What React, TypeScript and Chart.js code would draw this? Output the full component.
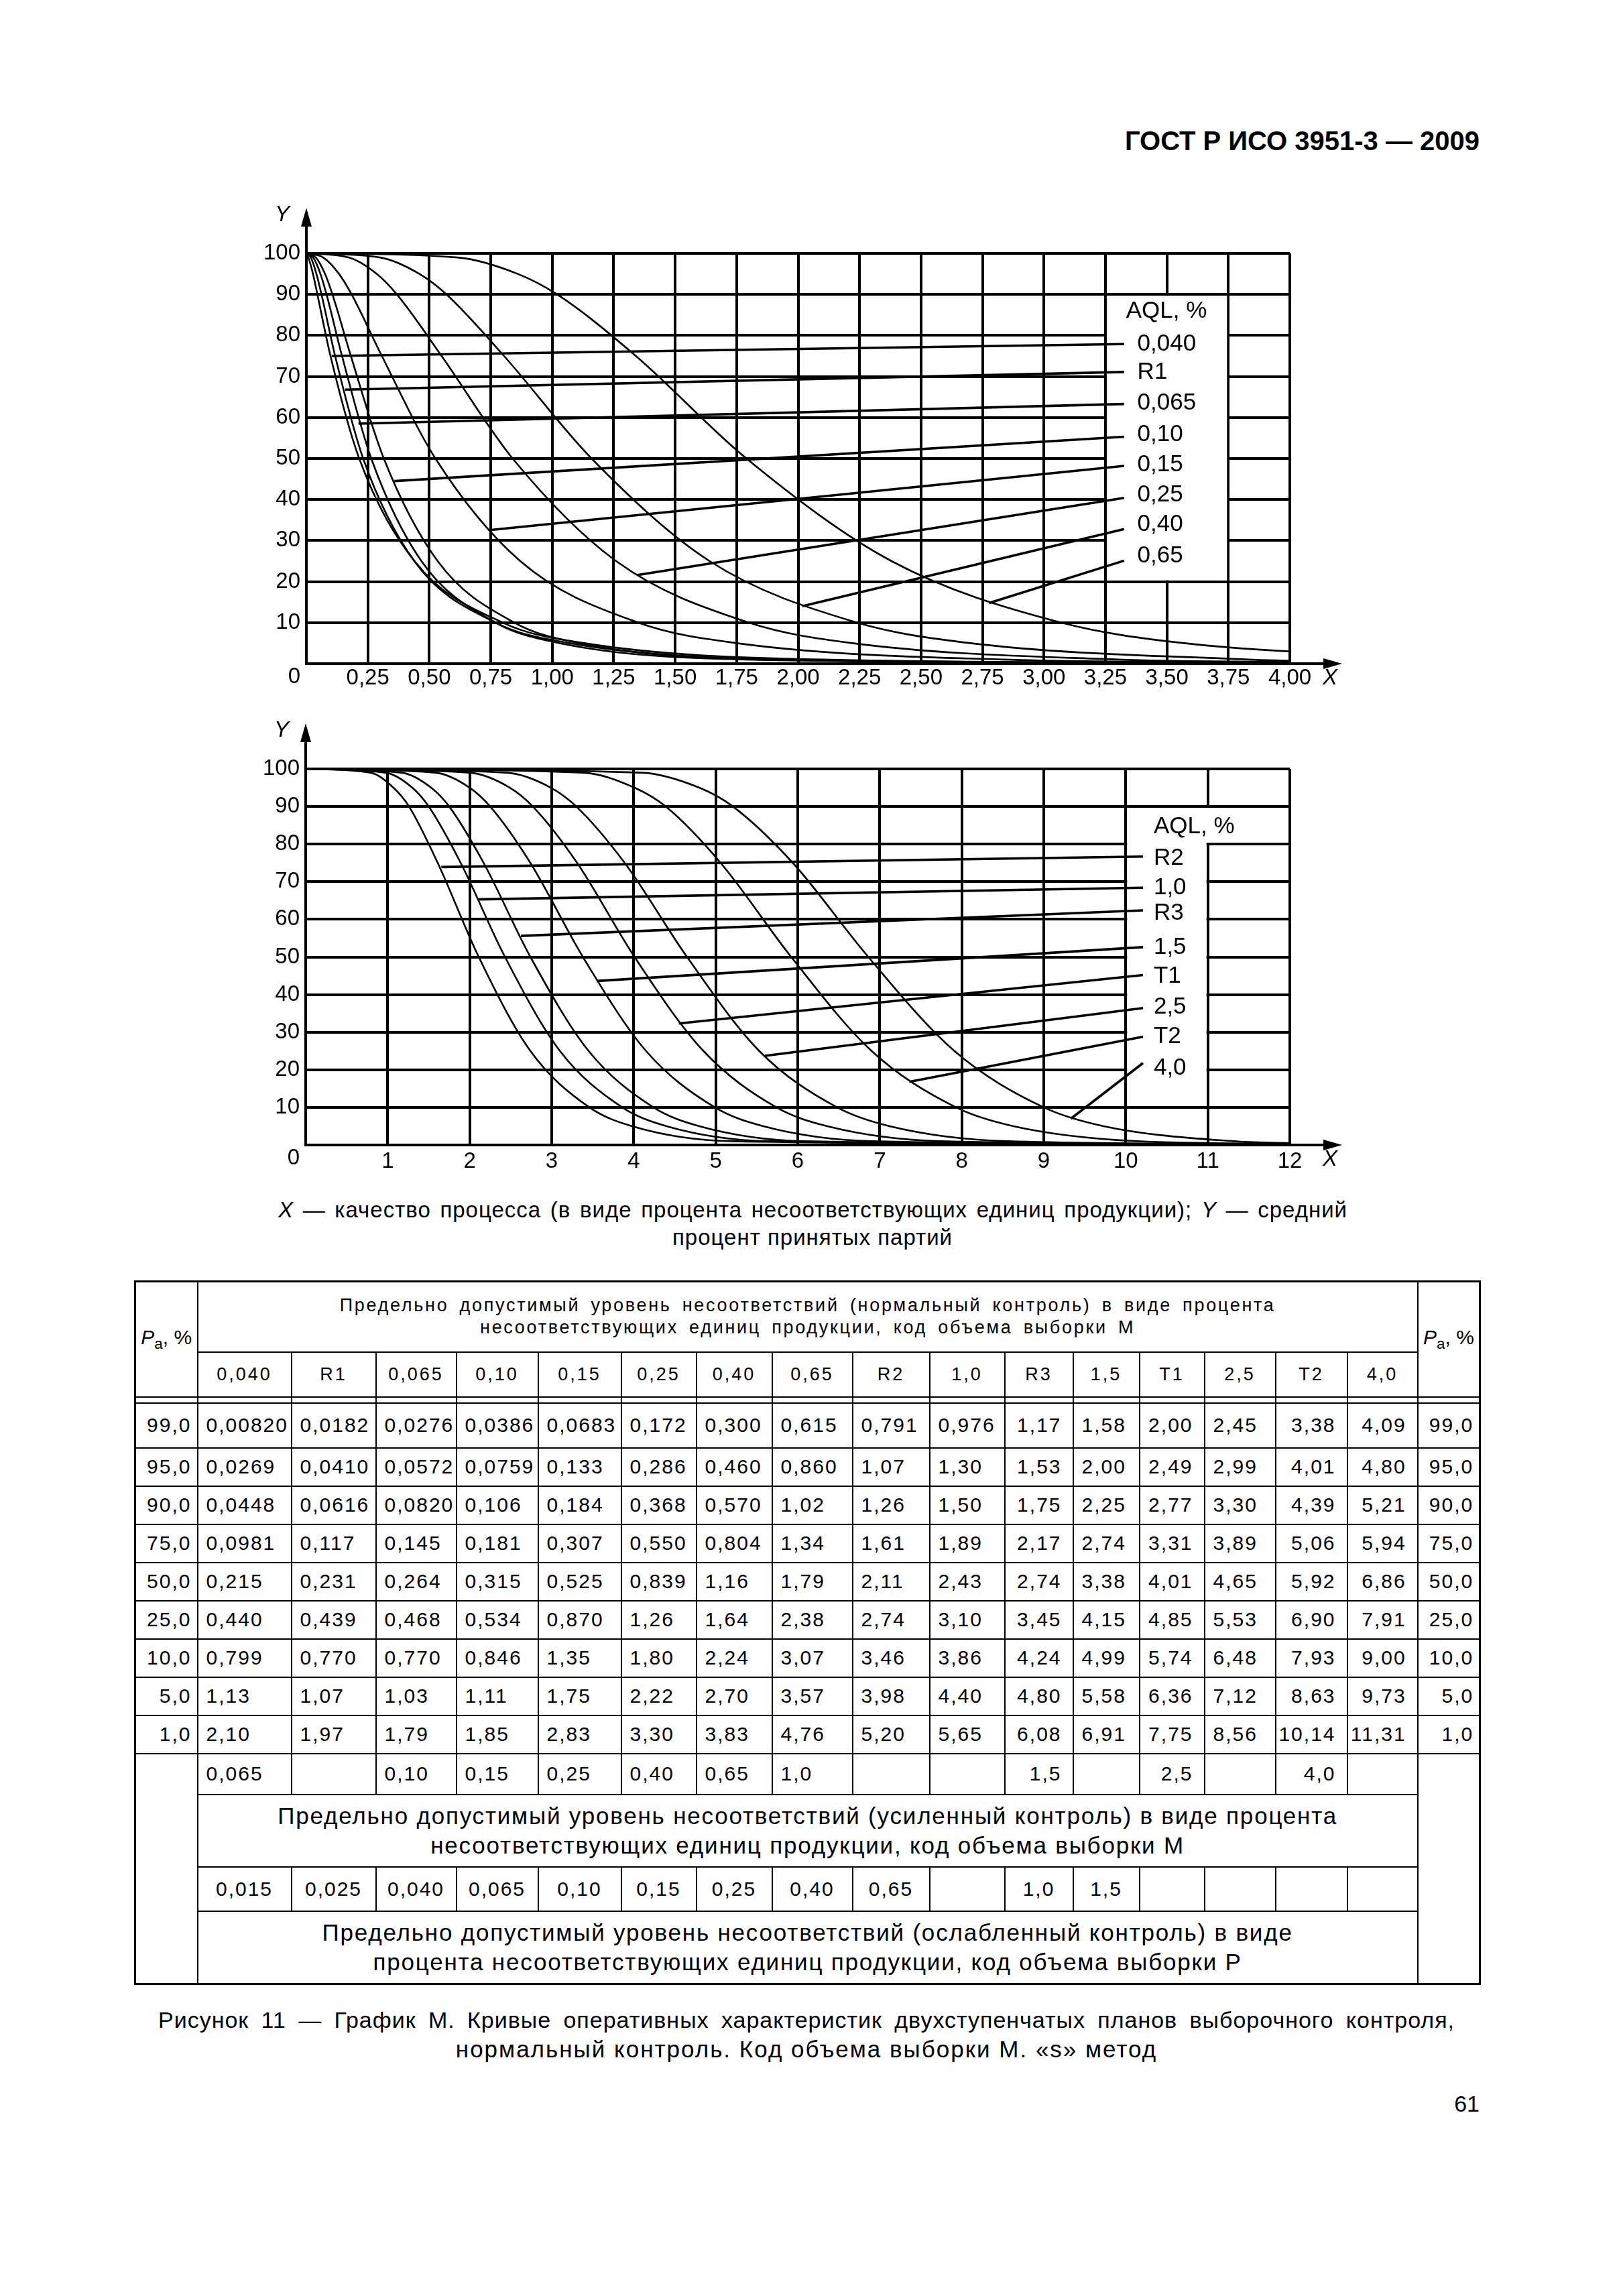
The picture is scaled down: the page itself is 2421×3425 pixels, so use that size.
import React, { useEffect, useRef } from 'react';
import { Chart, registerables } from 'chart.js';

Chart.register(...registerables);

const FONT = '"Liberation Sans", Arial, sans-serif';

// Acceptance probabilities Pa, %
const PA_LEVELS = [99, 95, 90, 75, 50, 25, 10, 5, 1];

// AQL column names
const AQL_LABELS = ['0,040', 'R1', '0,065', '0,10', '0,15', '0,25', '0,40', '0,65', 'R2', '1,0', 'R3', '1,5', 'T1', '2,5', 'T2', '4,0'];

// Process quality X (%) for each Pa level, one array per AQL
const X_0040 = [0.0082, 0.0269, 0.0448, 0.0981, 0.215, 0.44, 0.799, 1.13, 2.1];
const X_R1 = [0.0182, 0.041, 0.0616, 0.117, 0.231, 0.439, 0.77, 1.07, 1.97];
const X_0065 = [0.0276, 0.0572, 0.082, 0.145, 0.264, 0.468, 0.77, 1.03, 1.79];
const X_010 = [0.0386, 0.0759, 0.106, 0.181, 0.315, 0.534, 0.846, 1.11, 1.85];
const X_015 = [0.0683, 0.133, 0.184, 0.307, 0.525, 0.87, 1.35, 1.75, 2.83];
const X_025 = [0.172, 0.286, 0.368, 0.55, 0.839, 1.26, 1.8, 2.22, 3.3];
const X_040 = [0.3, 0.46, 0.57, 0.804, 1.16, 1.64, 2.24, 2.7, 3.83];
const X_065 = [0.615, 0.86, 1.02, 1.34, 1.79, 2.38, 3.07, 3.57, 4.76];
const X_R2 = [0.791, 1.07, 1.26, 1.61, 2.11, 2.74, 3.46, 3.98, 5.2];
const X_10 = [0.976, 1.3, 1.5, 1.89, 2.43, 3.1, 3.86, 4.4, 5.65];
const X_R3 = [1.17, 1.53, 1.75, 2.17, 2.74, 3.45, 4.24, 4.8, 6.08];
const X_15 = [1.58, 2.0, 2.25, 2.74, 3.38, 4.15, 4.99, 5.58, 6.91];
const X_T1 = [2.0, 2.49, 2.77, 3.31, 4.01, 4.85, 5.74, 6.36, 7.75];
const X_25 = [2.45, 2.99, 3.3, 3.89, 4.65, 5.53, 6.48, 7.12, 8.56];
const X_T2 = [3.38, 4.01, 4.39, 5.06, 5.92, 6.9, 7.93, 8.63, 10.14];
const X_40 = [4.09, 4.8, 5.21, 5.94, 6.86, 7.91, 9.0, 9.73, 11.31];

const X_SERIES = [X_0040, X_R1, X_0065, X_010, X_015, X_025, X_040, X_065, X_R2, X_10, X_R3, X_15, X_T1, X_25, X_T2, X_40];

// Tail of each curve at the right edge of its chart
const TAIL_TOP = [0.1, 0.1, 0.1, 0.15, 0.25, 0.4, 0.7, null];
const TAIL_BOTTOM = [0.1, 0.1, 0.1, 0.1, 0.15, 0.2, 0.3, 0.5];

// Leader lines (curve end point) and label rows, chart 1
const LEAD_TOP_X = [0.103, 0.158, 0.212, 0.358, 0.752, 1.347, 2.017, 2.777];
const LEAD_TOP_Y = [75.0, 66.8, 58.5, 44.5, 32.6, 21.6, 14.0, 14.8];
const LEAD_TOP_END_Y = [77.9, 71.1, 63.3, 55.3, 48.2, 40.4, 32.8, 25.1];
const LABEL_TOP_Y = [77.9, 71.1, 63.5, 55.9, 48.5, 41.1, 33.9, 26.3];

// Leader lines and label rows, chart 2
const LEAD_BOT_X = [1.654, 2.11, 2.625, 3.55, 4.55, 5.6, 7.36, 9.33];
const LEAD_BOT_Y = [73.9, 65.3, 55.6, 43.6, 32.3, 23.7, 16.8, 7.0];
const LEAD_BOT_END_Y = [76.7, 68.4, 62.4, 52.6, 45.2, 36.4, 28.8, 21.8];
const LABEL_BOT_Y = [76.2, 68.4, 61.6, 52.6, 44.9, 36.6, 28.8, 20.5];

// Mapping rows under the table
const TIGHT_ROW = ['0,065', '', '0,10', '0,15', '0,25', '0,40', '0,65', '1,0', '', '', '1,5', '', '2,5', '', '4,0', ''];
const REDUCED_ROW = ['0,015', '0,025', '0,040', '0,065', '0,10', '0,15', '0,25', '0,40', '0,65', '', '1,0', '1,5', '', '', '', ''];

const COL_W = [93, 140, 126, 120, 122, 124, 112, 113, 120, 115, 112, 102, 99, 97, 106, 107, 105, 93];
const RIGHT_COLS = [10, 12, 14, 15];

const fmtX = (v: number) => (v >= 10 ? v.toFixed(2) : v.toPrecision(3)).replace('.', ',');
const fmtPa = (v: number) => v.toFixed(1).replace('.', ',');

type Spec = {
  names: string[];
  series: number[][];
  xMax: number;
  xStep: number;
  fmt: (v: number) => string;
  tailX: number;
  tails: (number | null)[];
  leadX: number[];
  leadY: number[];
  leadEndX: number;
  leadEndY: number[];
  labelX: number;
  labelY: number[];
  titleX: number;
  titleY: number;
  boxes: number[][];
  pad: { left: number; top: number; right: number; bottom: number };
  xTickPad: number;
};

function curvePoints(xs: number[], tailX: number, tail: number | null) {
  const pts = [{ x: 0, y: 100 }, ...xs.map((v, i) => ({ x: v, y: PA_LEVELS[i] }))];
  if (tail !== null && tail !== undefined) pts.push({ x: tailX, y: tail });
  return pts;
}

function decorPlugin(spec: Spec) {
  return {
    id: 'decor',
    beforeDatasetsDraw(chart: any) {
      const { ctx, scales } = chart;
      const x = scales.x;
      const y = scales.y;
      ctx.save();
      ctx.fillStyle = '#fff';
      for (const b of spec.boxes) {
        const l = x.getPixelForValue(b[0]) + 2;
        const r = x.getPixelForValue(b[1]) - 2;
        const t = y.getPixelForValue(b[3]) + 2;
        const bt = y.getPixelForValue(b[2]) - 2;
        ctx.fillRect(l, t, r - l, bt - t);
      }
      ctx.restore();
    },
    afterDraw(chart: any) {
      const { ctx, chartArea: a, scales } = chart;
      const x = scales.x;
      const y = scales.y;
      ctx.save();
      ctx.strokeStyle = '#000';
      ctx.fillStyle = '#000';
      ctx.lineWidth = 4;
      const tipY = a.top - 68;
      ctx.beginPath();
      ctx.moveTo(a.left, a.top);
      ctx.lineTo(a.left, tipY + 20);
      ctx.stroke();
      ctx.beginPath();
      ctx.moveTo(a.left, tipY);
      ctx.lineTo(a.left - 8, tipY + 28);
      ctx.lineTo(a.left + 8, tipY + 28);
      ctx.closePath();
      ctx.fill();
      const tipX = a.right + 78;
      ctx.beginPath();
      ctx.moveTo(a.right, a.bottom);
      ctx.lineTo(tipX - 20, a.bottom);
      ctx.stroke();
      ctx.beginPath();
      ctx.moveTo(tipX, a.bottom);
      ctx.lineTo(tipX - 28, a.bottom - 8);
      ctx.lineTo(tipX - 28, a.bottom + 8);
      ctx.closePath();
      ctx.fill();

      ctx.font = `italic 33px ${FONT}`;
      ctx.textAlign = 'center';
      ctx.textBaseline = 'middle';
      ctx.fillText('Y', a.left - 36, tipY + 11);
      ctx.fillText('X', tipX - 18, a.bottom + 22);

      ctx.font = `35px ${FONT}`;
      ctx.textAlign = 'left';
      ctx.fillText('AQL, %', x.getPixelForValue(spec.titleX), y.getPixelForValue(spec.titleY));
      spec.names.forEach((n, i) => {
        ctx.fillText(n, x.getPixelForValue(spec.labelX), y.getPixelForValue(spec.labelY[i]));
      });
      ctx.restore();
    },
  };
}

function buildConfig(spec: Spec): any {
  const gridOpts = { color: '#000', lineWidth: 4, drawTicks: false };
  const borderOpts = { display: true, color: '#000', width: 4 };
  const datasets = [
    ...spec.series.map((xs, i) => ({
      label: spec.names[i],
      data: curvePoints(xs, spec.tailX, spec.tails[i]),
      borderColor: '#000',
      borderWidth: 2.6,
      pointRadius: 0,
      cubicInterpolationMode: 'monotone',
      fill: false,
    })),
    ...spec.leadX.map((lx, i) => ({
      label: 'leader ' + spec.names[i],
      data: [
        { x: lx, y: spec.leadY[i] },
        { x: spec.leadEndX, y: spec.leadEndY[i] },
      ],
      borderColor: '#000',
      borderWidth: 3.6,
      pointRadius: 0,
      tension: 0,
      fill: false,
    })),
  ];
  return {
    type: 'line',
    data: { datasets },
    options: {
      responsive: false,
      animation: false,
      devicePixelRatio: 1,
      events: [],
      layout: { padding: spec.pad },
      plugins: { legend: { display: false }, tooltip: { enabled: false }, title: { display: false } },
      scales: {
        x: {
          type: 'linear',
          min: 0,
          max: spec.xMax,
          grid: gridOpts,
          border: borderOpts,
          ticks: {
            stepSize: spec.xStep,
            autoSkip: false,
            maxRotation: 0,
            minRotation: 0,
            color: '#000',
            font: { family: FONT, size: 33 },
            padding: spec.xTickPad,
            callback: (v: any) => spec.fmt(Number(v)),
          },
          afterFit: (s: any) => {
            s.height = 50;
          },
        },
        y: {
          type: 'linear',
          min: 0,
          max: 100,
          grid: gridOpts,
          border: borderOpts,
          ticks: {
            stepSize: 10,
            autoSkip: false,
            color: '#000',
            font: { family: FONT, size: 33 },
            padding: 9,
            callback: (v: any) => (Number(v) === 0 ? ['', '0'] : String(v)),
          },
          afterFit: (s: any) => {
            s.width = 90;
          },
        },
      },
    },
    plugins: [decorPlugin(spec)],
  };
}

const SPEC_TOP: Spec = {
  names: AQL_LABELS.slice(0, 8),
  series: X_SERIES.slice(0, 8),
  xMax: 4,
  xStep: 0.25,
  fmt: (v) => (v === 0 ? '' : v.toFixed(2).replace('.', ',')),
  tailX: 4,
  tails: TAIL_TOP,
  leadX: LEAD_TOP_X,
  leadY: LEAD_TOP_Y,
  leadEndX: 3.326,
  leadEndY: LEAD_TOP_END_Y,
  labelX: 3.38,
  labelY: LABEL_TOP_Y,
  titleX: 3.334,
  titleY: 85.9,
  boxes: [[3.25, 3.75, 20, 90]],
  pad: { left: 27, top: 98, right: 116, bottom: 0 },
  xTickPad: 2,
};

const SPEC_BOTTOM: Spec = {
  names: AQL_LABELS.slice(8),
  series: X_SERIES.slice(8),
  xMax: 12,
  xStep: 1,
  fmt: (v) => (v === 0 ? '' : String(v)),
  tailX: 12,
  tails: TAIL_BOTTOM,
  leadX: LEAD_BOT_X,
  leadY: LEAD_BOT_Y,
  leadEndX: 10.21,
  leadEndY: LEAD_BOT_END_Y,
  labelX: 10.34,
  labelY: LABEL_BOT_Y,
  titleX: 10.34,
  titleY: 84.6,
  boxes: [
    [10, 11, 10, 90],
    [10, 12, 80, 90],
  ],
  pad: { left: 26, top: 97, right: 116, bottom: 12 },
  xTickPad: 5,
};

function OcChart({ spec, left, top, width, height }: { spec: Spec; left: number; top: number; width: number; height: number }) {
  const ref = useRef<HTMLCanvasElement>(null);
  useEffect(() => {
    const chart = new Chart(ref.current as HTMLCanvasElement, buildConfig(spec));
    return () => chart.destroy();
  }, []);
  return (
    <canvas
      ref={ref}
      width={width}
      height={height}
      style={{ position: 'absolute', left, top, width: width + 'px', height: height + 'px' }}
    />
  );
}

const PaLabel = () => (
  <span>
    <i>P</i>
    <sub style={{ fontSize: '0.75em' }}>a</sub>, %
  </span>
);

export default function App() {
  const cell: React.CSSProperties = {
    border: '2px solid #000',
    padding: 0,
    whiteSpace: 'nowrap',
    overflow: 'hidden',
    verticalAlign: 'middle',
  };
  const valueCell = (c: number): React.CSSProperties =>
    RIGHT_COLS.includes(c)
      ? { ...cell, textAlign: 'right', paddingRight: 16 }
      : { ...cell, textAlign: 'left', paddingLeft: 12 };
  const paCell: React.CSSProperties = { ...cell, textAlign: 'right', paddingRight: 8 };
  const centerCell: React.CSSProperties = { ...cell, textAlign: 'center' };
  const textCell: React.CSSProperties = {
    ...cell,
    textAlign: 'center',
    fontSize: 35,
    letterSpacing: '1.8px',
    lineHeight: '44px',
  };
  const headCell: React.CSSProperties = {
    ...cell,
    textAlign: 'center',
    fontSize: 27,
    letterSpacing: '2.7px',
    wordSpacing: '6px',
    lineHeight: '33px',
  };
  const labelCell: React.CSSProperties = { ...cell, textAlign: 'center', fontSize: 27, letterSpacing: '3px' };

  return (
    <div
      style={{
        position: 'absolute',
        left: 0,
        top: 0,
        width: 2421,
        height: 3425,
        background: '#fff',
        color: '#000',
        fontFamily: FONT,
        overflow: 'hidden',
      }}
    >
      <div
        style={{
          position: 'absolute',
          left: 1400,
          top: 186,
          width: 807,
          textAlign: 'right',
          fontSize: 40,
          fontWeight: 'bold',
          lineHeight: '48px',
        }}
      >
        ГОСТ Р ИСО 3951-3 — 2009
      </div>

      <OcChart spec={SPEC_TOP} left={340} top={280} width={1700} height={760} />
      <OcChart spec={SPEC_BOTTOM} left={340} top={1050} width={1700} height={720} />

      <div
        style={{
          position: 'absolute',
          left: 415,
          top: 1785,
          width: 1595,
          fontSize: 33,
          letterSpacing: '1px',
          lineHeight: '40px',
          textAlign: 'justify',
          textAlignLast: 'justify',
        }}
      >
        <i>X</i> — качество процесса (в виде процента несоответствующих единиц продукции); <i>Y</i> — средний
      </div>
      <div
        style={{
          position: 'absolute',
          left: 812,
          top: 1826,
          width: 800,
          fontSize: 33,
          letterSpacing: '1px',
          lineHeight: '40px',
          textAlign: 'center',
        }}
      >
        процент принятых партий
      </div>

      <table
        style={{
          position: 'absolute',
          left: 200,
          top: 1910,
          width: 2006,
          borderCollapse: 'collapse',
          tableLayout: 'fixed',
          border: '3px solid #000',
          fontFamily: FONT,
          fontSize: 30,
          letterSpacing: '2px',
          color: '#000',
        }}
      >
        <colgroup>
          {COL_W.map((w, i) => (
            <col key={i} style={{ width: w }} />
          ))}
        </colgroup>
        <tbody>
          <tr style={{ height: 105 }}>
            <td rowSpan={2} style={{ ...cell, textAlign: 'center', letterSpacing: '0px' }}>
              <PaLabel />
            </td>
            <td colSpan={16} style={headCell}>
              Предельно допустимый уровень несоответствий (нормальный контроль) в виде процента
              <br />
              несоответствующих единиц продукции, код объема выборки M
            </td>
            <td rowSpan={2} style={{ ...cell, textAlign: 'center', letterSpacing: '0px' }}>
              <PaLabel />
            </td>
          </tr>
          <tr style={{ height: 67 }}>
            {AQL_LABELS.map((l, i) => (
              <td key={i} style={labelCell}>
                {l}
              </td>
            ))}
          </tr>
          <tr style={{ height: 9 }}>
            {COL_W.map((_, i) => (
              <td key={i} style={cell}></td>
            ))}
          </tr>
          {PA_LEVELS.map((pa, r) => (
            <tr key={r} style={{ height: r === 0 ? 67 : 57 }}>
              <td style={paCell}>{fmtPa(pa)}</td>
              {X_SERIES.map((xs, c) => (
                <td key={c} style={valueCell(c)}>
                  {fmtX(xs[r])}
                </td>
              ))}
              <td style={paCell}>{fmtPa(pa)}</td>
            </tr>
          ))}
          <tr style={{ height: 61 }}>
            <td rowSpan={4} style={cell}></td>
            {TIGHT_ROW.map((t, c) => (
              <td key={c} style={valueCell(c)}>
                {t}
              </td>
            ))}
            <td rowSpan={4} style={cell}></td>
          </tr>
          <tr style={{ height: 108 }}>
            <td colSpan={16} style={textCell}>
              Предельно допустимый уровень несоответствий (усиленный контроль) в виде процента
              <br />
              несоответствующих единиц продукции, код объема выборки M
            </td>
          </tr>
          <tr style={{ height: 66 }}>
            {REDUCED_ROW.map((t, c) => (
              <td key={c} style={centerCell}>
                {t}
              </td>
            ))}
          </tr>
          <tr style={{ height: 109 }}>
            <td colSpan={16} style={textCell}>
              Предельно допустимый уровень несоответствий (ослабленный контроль) в виде
              <br />
              процента несоответствующих единиц продукции, код объема выборки P
            </td>
          </tr>
        </tbody>
      </table>

      <div
        style={{
          position: 'absolute',
          left: 236,
          top: 2993,
          width: 1934,
          fontSize: 34,
          letterSpacing: '1px',
          lineHeight: '40px',
          textAlign: 'justify',
          textAlignLast: 'justify',
        }}
      >
        Рисунок 11 — График M. Кривые оперативных характеристик двухступенчатых планов выборочного контроля,
      </div>
      <div
        style={{
          position: 'absolute',
          left: 603,
          top: 3037,
          width: 1200,
          fontSize: 35,
          letterSpacing: '2px',
          lineHeight: '40px',
          textAlign: 'center',
        }}
      >
        нормальный контроль. Код объема выборки M. «s» метод
      </div>

      <div
        style={{
          position: 'absolute',
          left: 2007,
          top: 3118,
          width: 200,
          fontSize: 34,
          lineHeight: '40px',
          textAlign: 'right',
        }}
      >
        61
      </div>
    </div>
  );
}
